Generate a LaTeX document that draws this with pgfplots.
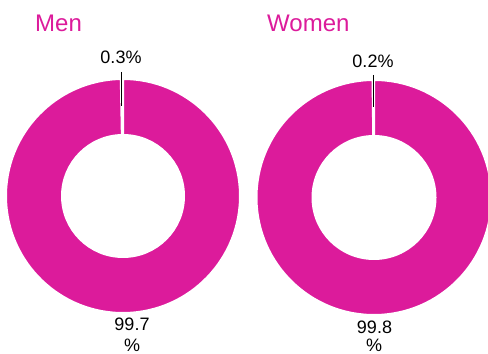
\documentclass[border=0pt]{standalone}
\usepackage{pgfplots}
\pgfplotsset{compat=1.18}
\usepackage{pgfplotstable}
\usepackage{fontspec}
\setmainfont{Liberation Sans}
\definecolor{mag}{HTML}{DC1B9B}
\definecolor{txt}{HTML}{000000}

\pgfplotstableread{
group value
small 0.3
large 99.7
}\mentable
\pgfplotstableread{
group value
small 0.2
large 99.8
}\womentable

\pgfplotstablegetelem{0}{value}\of\mentable
\pgfmathsetmacro\menA{90+3.6*\pgfplotsretval}
\pgfplotstablegetelem{0}{value}\of\womentable
\pgfmathsetmacro\womenA{90+3.6*\pgfplotsretval}

\newcommand\ring[7]{% cx cy a1 a2 R r style
  \path[#7] ([shift={(#3:#5bp)}]axis cs:#1,#2) arc[start angle=#3, end angle=#4, radius=#5bp]
    -- ([shift={(#4:#6bp)}]axis cs:#1,#2) arc[start angle=#4, end angle=#3, radius=#6bp] -- cycle;}

\begin{document}
\begin{tikzpicture}
\begin{axis}[width=488bp, height=354bp, scale only axis,
  xmin=0, xmax=488, ymin=0, ymax=354, hide axis, clip=false]
  \coordinate (ll) at (axis cs:0,0);
  \coordinate (ur) at (axis cs:488,354);
  % Men
  \ring{123}{158}{\menA}{450}{117}{61}{fill=mag, draw=white, line width=2bp}
  \ring{123}{158}{90}{\menA}{117}{61}{fill=white}
  \draw[black, line width=1.8bp] (axis cs:121.5,282) -- (axis cs:121.5,248);
  % Women
  \ring{374}{156.5}{\womenA}{450}{117.5}{61.5}{fill=mag, draw=white, line width=2bp}
  \ring{374}{156.5}{90}{\womenA}{117.5}{61.5}{fill=white}
  \draw[black, line width=1.8bp] (axis cs:373.5,279) -- (axis cs:373.5,247);
  % titles
  \node[anchor=base west, inner sep=0, text=mag, font=\fontsize{24bp}{28bp}\selectfont] at (axis cs:35,322) {Men};
  \node[anchor=base west, inner sep=0, text=mag, font=\fontsize{24bp}{28bp}\selectfont] at (axis cs:267,322.3) {Women};
  % labels
  \node[anchor=base, inner sep=0, text=txt, font=\fontsize{18bp}{22bp}\selectfont] at (axis cs:121,290) {0.3\%};
  \node[anchor=base, inner sep=0, text=txt, font=\fontsize{18bp}{22bp}\selectfont] at (axis cs:373,286) {0.2\%};
  \node[anchor=base, inner sep=0, text=txt, font=\fontsize{18bp}{22bp}\selectfont] at (axis cs:132,23.3) {99.7};
  \node[anchor=base, inner sep=0, text=txt, font=\fontsize{18bp}{22bp}\selectfont] at (axis cs:132,2.5) {\%};
  \node[anchor=base, inner sep=0, text=txt, font=\fontsize{18bp}{22bp}\selectfont] at (axis cs:374.5,20.7) {99.8};
  \node[anchor=base, inner sep=0, text=txt, font=\fontsize{18bp}{22bp}\selectfont] at (axis cs:374,2.8) {\%};
\end{axis}
\pgfresetboundingbox
\path[use as bounding box] (ll) rectangle (ur);
\end{tikzpicture}
\end{document}
